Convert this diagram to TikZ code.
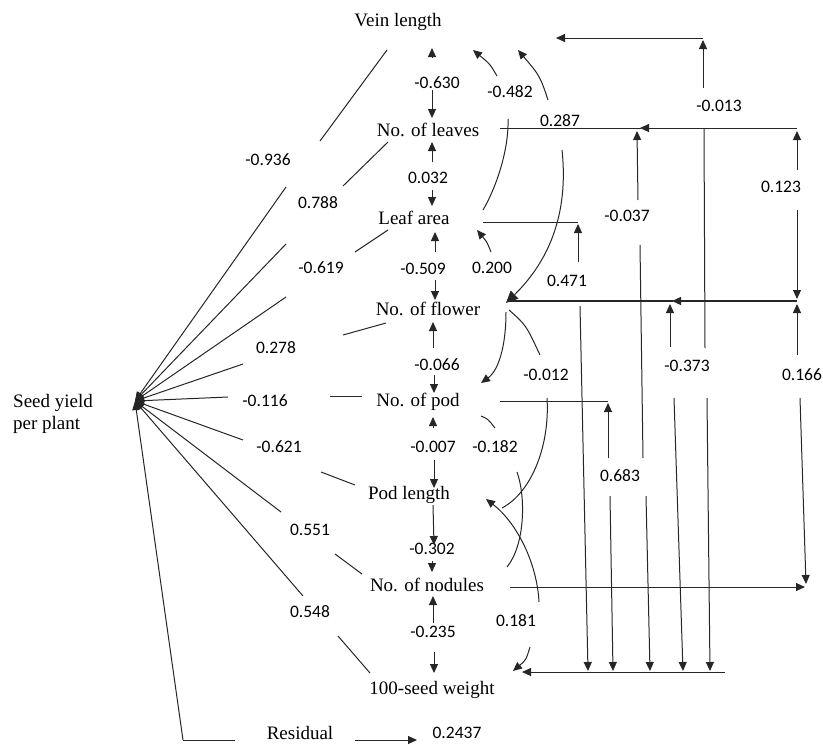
\documentclass[tikz,border=0pt]{standalone}
\usepackage{fontspec}
\setmainfont{Liberation Serif}
\newfontfamily\numfont{Carlito}
\usetikzlibrary{arrows.meta}
\begin{document}
\begin{tikzpicture}[x=1pt,y=-1pt,
  nm/.style={font=\fontsize{19}{22}\selectfont, inner sep=0pt},
  num/.style={font=\numfont\fontsize{17.5}{19}\selectfont, inner sep=0pt},
  ln/.style={line width=1pt, draw=black!85},
  tip/.style={ln, -{Triangle[length=9pt,width=8pt]}},
  bigtip/.style={ln, -{Triangle[length=12pt,width=11pt]}},
]
\useasboundingbox (0,0) rectangle (823,745);
\coordinate (S) at (135,401);
% variable nodes
\node[nm] (VL) at (398,22) {Vein length};
\node[nm] (NL) at (428,130) {No. of leaves};
\node[nm] (LA) at (414,218) {Leaf area};
\node[nm] (NF) at (428,309) {No. of flower};
\node[nm] (NP) at (418,402) {No. of pod};
\node[nm] (PL) at (409,495) {Pod length};
\node[nm] (NN) at (427,585) {No. of nodules};
\node[nm] (SW) at (432,690) {100-seed weight};
\node[nm, align=left, anchor=west] (SY) at (13,414) {Seed yield\\per plant};
\node[nm] (RS) at (300,733) {Residual};
\node[num] (rv) at (457,733) {0.2437};
% direct-effect labels
\node[num] (d1) at (268,160) {-0.936};
\node[num] (d2) at (318,203) {0.788};
\node[num] (d3) at (321,268) {-0.619};
\node[num] (d4) at (276,348) {0.278};
\node[num] (d5) at (265,401) {-0.116};
\node[num] (d6) at (279,447) {-0.621};
\node[num] (d7) at (310,530) {0.551};
\node[num] (d8) at (310,612) {0.548};
% adjacent correlation labels
\node[num] (v1) at (437,83) {-0.630};
\node[num] (v2) at (428,178) {0.032};
\node[num] (v3) at (423,269) {-0.509};
\node[num] (v4) at (437,365) {-0.066};
\node[num] (v5) at (433,447) {-0.007};
\node[num] (v6) at (432,549) {-0.302};
\node[num] (v7) at (433,632) {-0.235};
% other correlation labels
\node[num] (c1) at (510,92) {-0.482};
\node[num] (c2) at (560,121) {0.287};
\node[num] (c3) at (492,268) {0.200};
\node[num] (c4) at (567,281) {0.471};
\node[num] (c5) at (546,375) {-0.012};
\node[num] (c6) at (495,447) {-0.182};
\node[num] (c7) at (516,621) {0.181};
\node[num] (c8) at (620,476) {0.683};
\node[num] (c9) at (627,216) {-0.037};
\node[num] (c10) at (719,106) {-0.013};
\node[num] (c11) at (781,187) {0.123};
\node[num] (c12) at (687,366) {-0.373};
\node[num] (c13) at (802,375) {0.166};

% paths to seed yield
\draw[tip] (286,187) -- (S);  \draw[ln] (320,141) -- (387,50);
\draw[tip] (286,244) -- (S);  \draw[ln] (343,186) -- (388,142);
\draw[tip] (286,297) -- (S);  \draw[ln] (355,252) -- (388,230);
\draw[tip] (243,364) -- (S);  \draw[ln] (343,335) -- (386,323);
\draw[tip] (228,397) -- (S);  \draw[ln] (330,396) -- (362,396);
\draw[tip] (243,440) -- (S);  \draw[ln] (321,472) -- (355,485);
\draw[tip] (281,512) -- (S);  \draw[ln] (335,554) -- (362,574);
\draw[tip] (303,596) -- (S);  \draw[ln] (338,636) -- (370,673);
\draw[tip] (183,740) -- (S);
\draw[ln] (183,740) -- (235,740);
\draw[tip] (355,740) -- (417,740);

% column arrows
\draw[tip] (432,58) -- (432,48);
\draw[tip] (432,90) -- (432,118);
\draw[tip] (432,162) -- (432,142);
\draw[tip] (432,190) -- (432,206);
\draw[tip] (435,252) -- (435,232);
\draw[tip] (435,280) -- (435,300);
\draw[tip] (433,348) -- (433,322);
\draw[tip] (434,375) -- (434,393);
\draw[tip] (433,428) -- (433,417);
\draw[tip] (434,460) -- (434,488);
\draw[tip] (433,505) -- (434,545);
\draw[tip] (432,561) -- (432,572);
\draw[tip] (433,623) -- (433,596);
\draw[tip] (434,652) -- (434,673);

% curves near the column
\draw[ln] (483,210) .. controls (496,188) and (509,150) .. (508,119);
\draw[tip] (497,76) .. controls (490,64) .. (473,50);
\draw[tip] (548,100) .. controls (540,76) .. (518,50);
\draw[bigtip] (562,150) .. controls (569,215) and (548,262) .. (506,303);
\draw[tip] (491,252) .. controls (487,242) .. (477,230);
\draw[tip] (506,312) .. controls (506,345) and (499,370) .. (481,383);
\draw[ln] (509,310) .. controls (526,325) .. (540,355);
\draw[ln] (547,398) .. controls (550,445) and (532,492) .. (502,508);
\draw[ln] (481,416) .. controls (488,419) .. (495,428);
\draw[ln] (517,472) .. controls (526,497) and (525,545) .. (507,567);
\draw[tip] (539,602) .. controls (537,562) and (516,522) .. (486,499);
\draw[tip] (530,647) .. controls (526,660) .. (513,671);

% right-hand frame lines
\draw[tip] (703,38) -- (556,38);
\draw[tip] (703,88) -- (703,40);
\draw[ln] (704,128) -- (705,348);
\draw[tip] (707,398) -- (710,671);

\draw[ln] (500,128) -- (641,128);
\draw[tip] (797,128) -- (640,128);
\draw[tip] (797,170) -- (797,131);
\draw[tip] (797,210) -- (797,299);

\draw[ln] (483,222) -- (578,222);
\draw[tip] (578,262) -- (578,224);
\draw[tip] (580,306) -- (588,671);

\draw[tip] (638,200) -- (637,131);
\draw[ln] (640,245) -- (643,458);
\draw[tip] (646,496) -- (650,671);

\draw[ln, line width=1.4pt] (507,301) -- (673,301);
\draw[tip, line width=1.4pt] (797,301) -- (672,301);
\draw[tip] (670,347) -- (670,304);
\draw[tip] (674,398) -- (683,671);

\draw[tip] (797,355) -- (797,304);
\draw[tip] (800,398) -- (806,584);

\draw[ln] (500,401) -- (608,401);
\draw[tip] (608,458) -- (608,403);
\draw[tip] (610,496) -- (613,671);

\draw[tip] (510,587) -- (805,587);
\draw[tip] (725,672) -- (522,672);
\end{tikzpicture}
\end{document}
